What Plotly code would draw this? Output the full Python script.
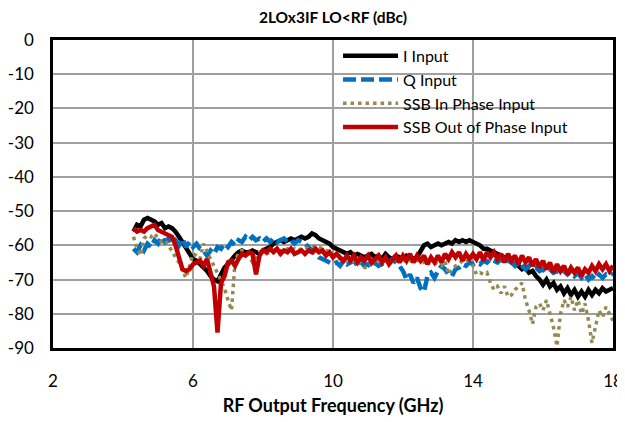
import numpy as np
import plotly.graph_objects as go

freq = np.round(np.arange(4.3, 18.01, 0.1), 1)

i_input = [
    -56, -54, -54.5, -52.5, -52, -52.5, -53, -54, -53.5, -55,
    -54.5, -55, -56, -57.5, -59, -61, -62.5, -64, -64.5, -65.5,
    -66.5, -67.5, -69, -70, -70.5, -68.5, -66.5, -65.5, -64, -63,
    -62, -61.5, -62, -62, -61.5, -62, -62.5, -61.5, -61, -60.5,
    -59.5, -59, -58.5, -59, -58.5, -58, -58.5, -58, -57.5, -58,
    -57.5, -56.5, -57, -58, -58.5, -59, -59.5, -60.5, -61, -61.5,
    -62, -62.5, -62, -63, -62.5, -63, -63.5, -63, -62.5, -63.5,
    -63, -64, -62.5, -63.5, -64, -63, -63.5, -64, -63, -63.5,
    -64, -63.5, -62, -60, -59.5, -60.5, -60, -59.5, -60, -59.5,
    -59, -59.5, -58.5, -59, -58.5, -59, -58.5, -59, -59.5, -60,
    -61, -61, -61.5, -62, -62.5, -63, -63.5, -64, -65, -65.5,
    -66, -67, -66.5, -68, -67.5, -69, -70, -71.5, -70, -72,
    -71, -73, -72, -74, -72.5, -74.5, -73, -75, -73.5, -75,
    -73, -74.5, -73, -74, -72.5, -73.5, -73, -72.5,
]

q_input = [
    -61, -62, -60, -61.5, -59.5, -60.5, -58.5, -59.5, -57.5, -59,
    -58, -59.5, -58.5, -60, -58, -60.5, -59, -60.5, -59.5, -61,
    -61.5, -63, -61.5, -62.5, -60.5, -61, -59.5, -60.5, -59, -60,
    -58.5, -59, -57.5, -58.5, -57.5, -58.5, -58, -59, -58, -59,
    -58, -59, -58.5, -58, -59, -58.5, -59.5, -58.5, -59, -59.5,
    -60.5, -61.5, -62.5, -63.5, -64, -64.5, -65, -65.5, -65, -66,
    -64.5, -65.5, -65, -64.5, -66, -65, -66, -65.5, -66.5, -65,
    -66, -65.5, -64.5, -65, -64, -65, -66, -67.5, -70, -68.5,
    -71, -69.5, -72.5, -73.5, -69, -68, -69.5, -67.5, -66, -67,
    -68.5, -69, -67, -66.5, -65.5, -66, -65, -65.5, -65, -65.5,
    -64.5, -65, -64, -64.5, -65, -64, -65, -64.5, -65, -66,
    -65, -66, -67, -66, -67, -66.5, -67.5, -67, -68, -67,
    -68, -67.5, -68.5, -67.5, -68.5, -67.5, -69, -68, -69.5, -68.5,
    -70, -69, -70, -68.5, -69.5, -68.5, -69, -68,
]

ssb_in = [
    -57.5, -61, -63, -58, -57, -57.5, -56.5, -58, -59, -58.5,
    -60, -62, -63.5, -65, -67, -69.5, -66, -62.5, -63, -64,
    -59.5, -62, -64, -66, -68, -70, -72.5, -76, -79, -65,
    -62, -61.5, -62, -63, -65, -63.5, -62, -62, -62.5, -62,
    -61.5, -62, -61.5, -62, -61, -61.5, -61, -61.5, -61, -60.5,
    -61, -60.5, -60, -60.5, -61, -61.5, -62, -63, -63.5, -64,
    -63.5, -64.5, -65, -64.5, -65, -65.5, -66.5, -66.5, -65.5, -65,
    -64.5, -65, -64.5, -65, -64.5, -64, -64.5, -64, -65, -64.5,
    -65, -64.5, -64, -65, -64.5, -64, -65, -65.5, -66, -64.5,
    -68.5, -67, -66, -65.5, -64.5, -64, -65, -66, -68.5, -68,
    -68.5, -68, -71, -73, -72, -74, -72, -75, -74.5, -73,
    -72, -71, -76, -79, -83, -78, -77, -79, -76, -80,
    -84, -89.5, -80, -76, -78, -75, -79, -76, -80, -77,
    -82, -88.5, -84, -79, -81, -78, -80, -82,
]

ssb_out = [
    -55, -56, -55.5, -56, -55, -54.5, -54, -55.5, -56, -56.5,
    -57, -57.5, -60, -64, -67, -67.5, -67, -65.5, -65, -64.5,
    -66, -64, -68, -72, -85.5, -71, -69, -65, -64.5, -66,
    -64, -62.5, -63, -62, -62.5, -68.5, -63, -61.5, -62, -61,
    -62, -61, -62.5, -61.5, -62, -61, -62.5, -62, -61.5, -62.5,
    -61.5, -62, -61, -62, -61.5, -63, -62, -63.5, -62.5, -63.5,
    -64.5, -63, -64.5, -63, -65, -63.5, -64.5, -63, -65, -64,
    -63, -65, -63.5, -65.5, -64, -63, -65, -63, -64.5, -62.5,
    -65, -63, -64.5, -63, -65.5, -63.5, -65, -63, -65, -62.5,
    -64, -62, -63.5, -62, -64.5, -62.5, -64, -62.5, -64, -62,
    -64.5, -62, -63.5, -62, -64, -62.5, -65, -62.5, -64.5, -63,
    -65.5, -63, -65, -63.5, -66, -64, -66.5, -64.5, -67, -65,
    -68, -65.5, -67.5, -66, -68.5, -66.5, -68, -66.5, -69, -67,
    -68, -66, -67.5, -65.5, -67, -65.5, -67.5, -66,
]

series_names = ["I Input", "Q Input", "SSB In Phase Input", "SSB Out of Phase Input"]
x_ticks = [2, 6, 10, 14, 18]
y_ticks = [0, -10, -20, -30, -40, -50, -60, -70, -80, -90]

FONT = "Lato"

fig = go.Figure()
fig.add_trace(go.Scatter(x=freq, y=i_input, name=series_names[0], mode="lines",
                         line=dict(color="#000000", width=4.5)))
fig.add_trace(go.Scatter(x=freq, y=q_input, name=series_names[1], mode="lines",
                         line=dict(color="#0070C0", width=4.5, dash="13px,5px")))
fig.add_trace(go.Scatter(x=freq, y=ssb_in, name=series_names[2], mode="lines",
                         line=dict(color="#938953", width=3.5, dash="3.5px,4px")))
fig.add_trace(go.Scatter(x=freq, y=ssb_out, name=series_names[3], mode="lines",
                         line=dict(color="#C00000", width=4.5)))

# white box behind the legend that hides the gridlines (drawn under the traces)
fig.add_shape(type="rect", xref="paper", yref="paper",
              x0=0.482, x1=0.995, y0=0.705, y1=0.995,
              fillcolor="white", line=dict(width=0), layer="between")

# The page body adds an 8px offset, so the figure is sized/margined to land
# the plot frame at x 53..613, y 40..348 in the 625x422 window.
fig.update_layout(
    width=617, height=414,
    margin=dict(l=45, r=12, t=32, b=74),
    paper_bgcolor="white", plot_bgcolor="white",
    font=dict(family=FONT, size=17, color="#000000"),
    title=dict(text="<b>2LOx3IF LO&lt;RF (dBc)</b>", x=0.5, xref="paper",
               y=0.978, yref="container", yanchor="middle",
               font=dict(family=FONT, size=15.5, color="#000000")),
    showlegend=True,
    legend=dict(x=0.509, y=1.004, xanchor="left", yanchor="top",
                bgcolor="rgba(0,0,0,0)", borderwidth=0, itemwidth=55,
                font=dict(family=FONT, size=16, color="#000000"),
                tracegroupgap=0),
    xaxis=dict(range=[2, 18], tickvals=x_ticks, ticktext=[str(v) for v in x_ticks],
               showgrid=True, gridcolor="#A0A0A0", gridwidth=1.5,
               showline=True, linecolor="#000000", linewidth=2.5, mirror=True,
               ticks="outside", ticklen=16, tickcolor="rgba(0,0,0,0)",
               zeroline=False, automargin=False,
               title=dict(text="<b>RF Output Frequency (GHz)</b>", standoff=10,
                          font=dict(family=FONT, size=18, color="#000000"))),
    yaxis=dict(range=[-90, 0], tickvals=y_ticks, ticktext=[str(v) for v in y_ticks],
               showgrid=True, gridcolor="#A0A0A0", gridwidth=1.5,
               showline=True, linecolor="#000000", linewidth=2.5, mirror=True,
               ticks="outside", ticklen=13, tickcolor="rgba(0,0,0,0)",
               zeroline=False, automargin=False),
)

fig.write_html("out.html")
